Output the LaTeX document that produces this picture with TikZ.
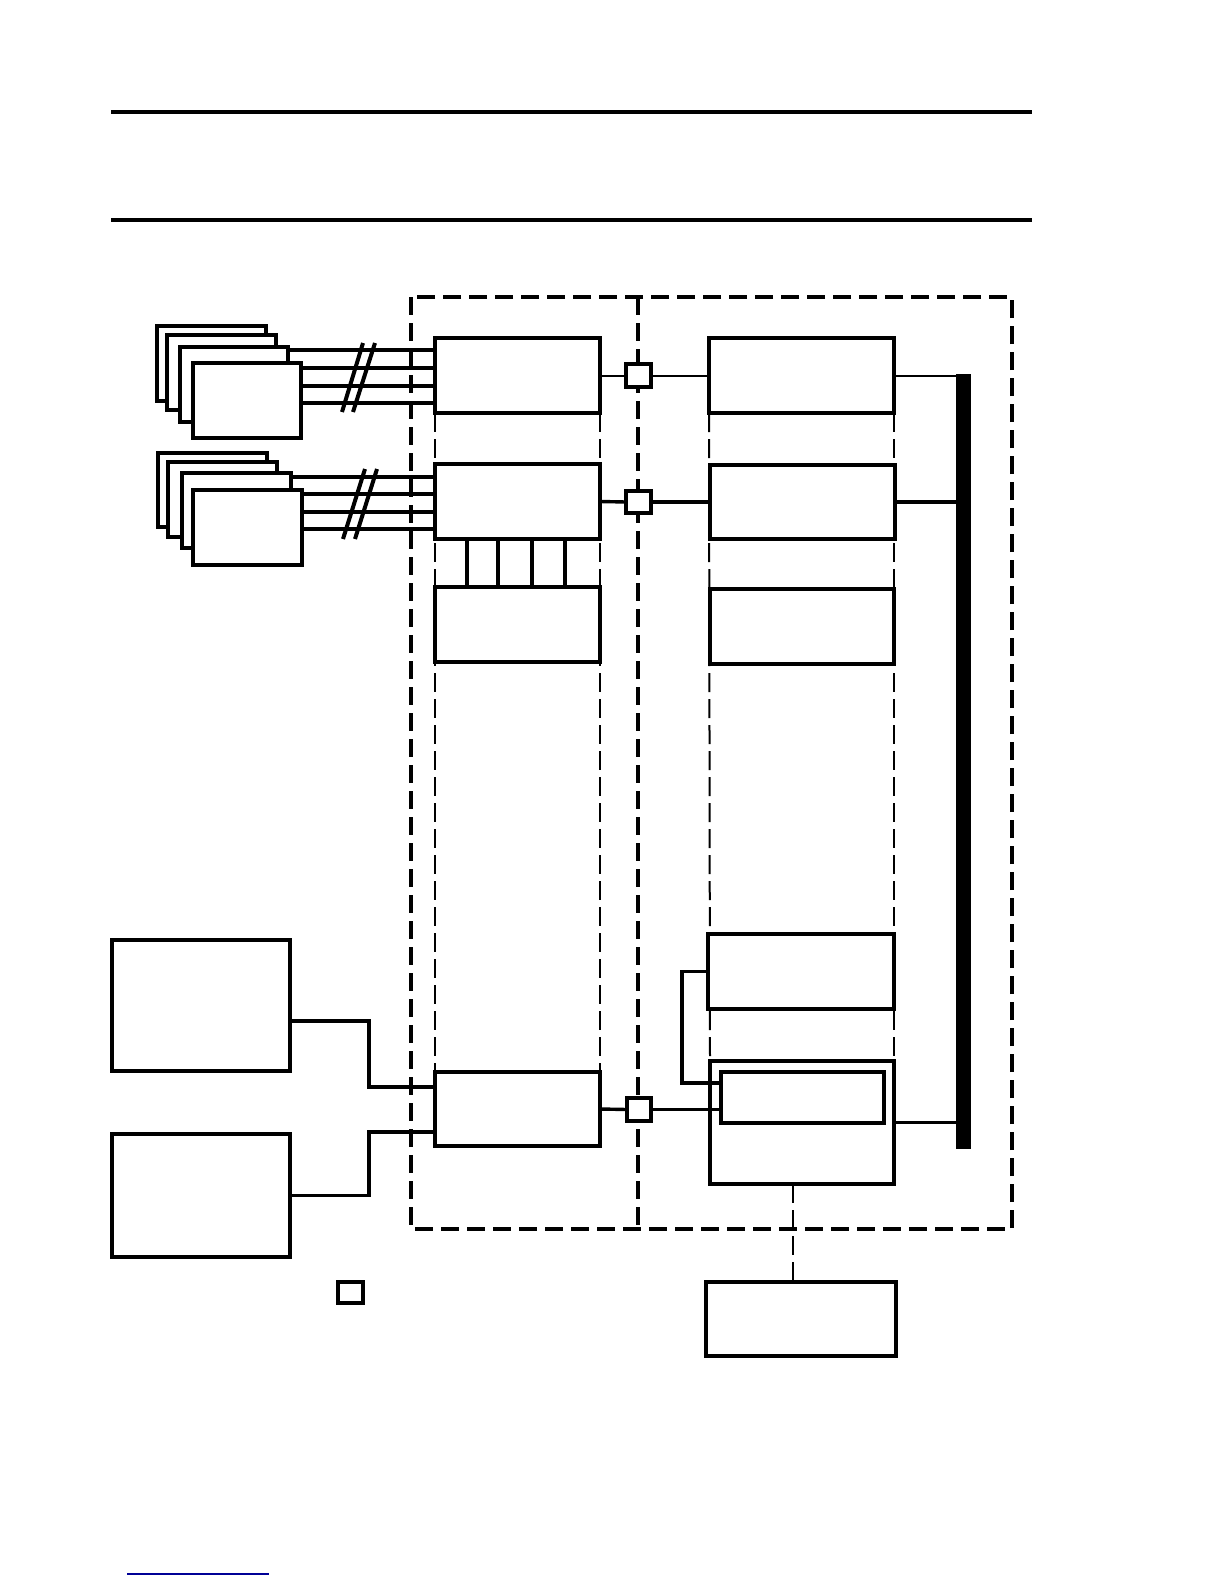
\documentclass[tikz,border=0pt]{standalone}
\usetikzlibrary{calc}
\pgfdeclarelayer{background}
\pgfsetlayers{background,main}
\definecolor{linkblue}{RGB}{0,0,150}
\tikzset{
 box/.style={draw, line width=1.7pt, fill=white, rectangle, inner sep=0pt, outer sep=0pt},
 link/.style={line width=1.7pt},
 thinlink/.style={line width=1pt},
 hash/.style={line width=2pt},
 region/.style={line width=1.7pt, dash pattern=on 9pt off 4pt},
 guide/.style={line width=1pt, dash pattern=on 9.5pt off 3.5pt},
 rule/.style={line width=2pt},
}
\newcommand\bx[6][]{\node[box,minimum width={(#5-#3)*0.5pt},minimum height={(#6-#4)*0.5pt},#1] (#2) at ({(#3+#5)/2},{(#4+#6)/2}) {};}
\begin{document}
\begin{tikzpicture}[x=0.5pt,y=-0.5pt]
\useasboundingbox (0,0) rectangle (1224,1584);
% top rules
\coordinate (r1a) at (111,112); \coordinate (r1b) at (1032,112);
\coordinate (r2a) at (111,220); \coordinate (r2b) at (1032,220);
\draw[rule] (r1a) -- (r1b);
\draw[rule] (r2a) -- (r2b);
% stacked boxes group 1
\bx{s1a}{157}{326}{266}{401}
\bx{s1b}{167}{335}{276}{410}
\bx{s1c}{180}{347}{288}{422}
\bx{s1d}{193}{363}{301}{438}
% stacked boxes group 2
\bx{s2a}{158}{453}{267}{527}
\bx{s2b}{168}{462}{277}{537}
\bx{s2c}{182}{473}{291}{548}
\bx{s2d}{193}{490}{302}{565}
% left column
\bx{A1}{435}{338}{600}{413}
\bx{A2}{435}{464}{600}{539}
\bx{A3}{435}{587}{600}{662}
\bx{A4}{435}{1072}{600}{1146}
% right column
\bx{B1}{709}{338}{894}{413}
\bx{B2}{710}{465}{895}{539}
\bx{B3}{710}{589}{894}{664}
\bx{B4}{708}{934}{894}{1009}
\bx{B5}{710}{1061}{894}{1184}
\bx{B5i}{721}{1072}{884}{1123}
\bx{C}{706}{1282}{896}{1356}
% left external boxes
\bx{L1}{112}{940}{290}{1071}
\bx{L2}{112}{1134}{290}{1257}
% small squares
\bx{q1}{626}{364}{651}{387}
\bx{q2}{626}{491}{651}{513}
\bx{q3}{627}{1098}{651}{1121}
\bx{ql}{338}{1282}{363}{1303}
% bus bar
\node[fill=black, inner sep=0pt, outer sep=0pt, minimum width=7.5pt, minimum height={775*0.5pt}] (bus) at (963.5,761.5) {};

% dashed regions and guides
\begin{pgfonlayer}{background}
\draw[region] (411,297) rectangle (1012,1229);
\draw[region] (638,297) -- (638,1229);
\draw[guide] (A1.south west) -- (A4.north west);
\draw[guide] (A1.south east) -- (A4.north east);
\draw[guide] (B1.south west) -- (B5.north west);
\draw[guide] (B1.south east) -- (B5.north east);
\coordinate (dx) at (793,0);
\draw[guide] (B5.south -| dx) -- (C.north -| dx);
\end{pgfonlayer}

% stack 1 links
\coordinate (p11) at (288,350);
\coordinate (p12) at (301,368);
\coordinate (p13) at (301,386);
\coordinate (p14) at (301,403);
\foreach \p in {p11,p12,p13,p14} \draw[link] (\p) -- (\p -| A1.west);
\draw[hash] (342,412) -- (363,343);
\draw[hash] (353,412) -- (375,343);
% stack 2 links
\coordinate (p21) at (291,477);
\coordinate (p22) at (302,494);
\coordinate (p23) at (302,512);
\coordinate (p24) at (302,529);
\foreach \p in {p21,p22,p23,p24} \draw[link] (\p) -- (\p -| A2.west);
\draw[hash] (343,539) -- (365,469);
\draw[hash] (355,539) -- (377,469);
% A2 - A3 vertical links
\foreach \s in {32,63,97,130}
  \draw[link] ([xshift=\s*0.5pt]A2.south west) -- ([xshift=\s*0.5pt]A3.north west);
% row links
\draw[thinlink] (A1.east) -- (q1.west);
\draw[thinlink] (q1.east) -- (B1.west);
\draw[thinlink] (B1.east) -- (B1.east -| bus.west);
\draw[link] (A2.east) -- (q2.west);
\draw[link] (q2.east) -- (q2.east -| B2.west);
\draw[link] (B2.east) -- (B2.east -| bus.west);
\draw[link] (A4.east) -- (q3.west);
\draw[link] (q3.east) -- (q3.east -| B5i.west);
\draw[link] (B5.east) -- (B5.east -| bus.west);
% B4 to inner box
\coordinate (jog2) at (682,0);
\coordinate (b5in) at (721,1083);
\draw[link] (B4.west) -- (B4.west -| jog2) |- (b5in);
% L1, L2 to A4
\coordinate (jog) at (369,0);
\coordinate (l1p) at (290,1021);
\coordinate (a4in1) at (435,1087);
\coordinate (a4in2) at (435,1132);
\draw[link] (l1p) -- (l1p -| jog) |- (a4in1);
\draw[link] (L2.east) -- (L2.east -| jog) |- (a4in2);
% bottom blue line
\coordinate (bl1) at (127,1574); \coordinate (bl2) at (269,1574);
\draw[linkblue, line width=0.7pt] (bl1) -- (bl2);
\end{tikzpicture}
\end{document}
